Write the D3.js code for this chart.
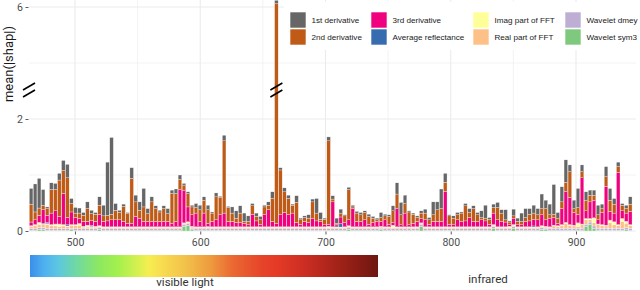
<!DOCTYPE html>
<html><head><meta charset="utf-8">
<script src="https://cdn.jsdelivr.net/npm/d3@7"></script>
<style>body{margin:0;background:#fff}svg{display:block}</style>
</head><body><svg id="c" width="640" height="290"></svg>
<script>
// ---------------- data ----------------
const wavelengths = [465.0,468.2,471.4,474.6,477.8,481.1,484.3,487.5,490.7,493.9,
497.1,500.3,503.5,506.7,509.9,513.2,516.4,519.6,522.8,526.0,
529.2,532.4,535.6,538.8,542.0,545.3,548.5,551.7,554.9,558.1,
561.3,564.5,567.7,570.9,574.1,577.4,580.6,583.8,587.0,590.2,
593.4,596.6,599.8,603.0,606.2,609.5,612.7,615.9,619.1,622.3,
625.5,628.7,631.9,635.1,638.3,641.6,644.8,648.0,651.2,654.4,
657.6,660.8,664.0,667.2,670.4,673.7,676.9,680.1,683.3,686.5,
689.7,692.9,696.1,699.3,702.5,705.8,709.0,712.2,715.4,718.6,
721.8,725.0,728.2,731.4,734.6,737.9,741.1,744.3,747.5,750.7,
753.9,757.1,760.3,763.5,766.7,770.0,773.2,776.4,779.6,782.8,
786.0,789.2,792.4,795.6,798.8,802.1,805.3,808.5,811.7,814.9,
818.1,821.3,824.5,827.7,830.9,834.2,837.4,840.6,843.8,847.0,
850.2,853.4,856.6,859.8,863.0,866.3,869.5,872.7,875.9,879.1,
882.3,885.5,888.7,891.9,895.1,898.4,901.6,904.8,908.0,911.2,
914.4,917.6,920.8,924.0,927.2,930.5,933.7,936.9,940.1,943.3];

const firstDerivative = [.28,.50,.53,.28,.03,.12,.11,.12,.18,.24,
.09,.10,.09,.05,.12,.06,.03,.15,.19,.95,
1.37,.12,.04,.04,.02,.19,.12,.15,.33,.09,
.09,.05,.03,.05,.09,.06,.08,.08,.03,.03,
.03,.07,.08,.06,.08,.02,.07,.02,.10,.02,
.11,.13,.13,.15,.10,.04,.06,.06,.03,.06,
.12,.06,.04,.07,.06,.02,.12,.03,.03,.06,
.05,.26,.12,.02,.07,.06,.09,.07,.02,.04,
.03,.03,.04,.03,.04,.03,.03,.09,.03,.03,
.09,.20,.22,.15,.02,.02,.03,.04,.07,.04,
.23,.14,.35,.16,.02,.04,.04,.02,.04,.07,
.05,.04,.12,.23,.03,.06,.09,.06,.18,.02,
.12,.06,.15,.16,.10,.14,.11,.26,.15,.19,
.53,.10,.27,.40,.12,.15,.34,.12,.15,.09,
.09,.17,.08,.18,.21,.10,.08,.03,.06,.13];

const secondDerivative = [.32,.14,.13,.08,.12,.42,.38,.65,.41,.71,
.15,.08,.10,.11,.23,.12,.13,.17,.10,.10,
.10,.17,.13,.27,.17,.80,.26,.15,.26,.14,
.35,.23,.17,.23,.14,.53,.50,.18,.09,.24,
.14,.10,.21,.23,.24,.15,.41,.31,1.29,.25,
.15,.08,.17,.03,.06,.15,.08,.08,.14,.08,
.41,5.92,.80,.37,.29,.14,.36,.08,.07,.08,
.29,.14,.04,.10,1.49,.05,.03,.07,.12,.54,
.03,.15,.12,.13,.14,.08,.03,.07,.07,.14,
.21,.26,.18,.17,.23,.16,.07,.10,.12,.08,
.12,.21,.23,.16,.15,.12,.09,.15,.27,.09,
.23,.12,.04,.05,.09,.10,.22,.15,.04,.05,
.04,.06,.06,.07,.12,.11,.09,.11,.20,.06,
.06,.09,.12,.16,.46,.07,.12,.11,.19,.12,
.09,.09,.07,.17,.20,.16,.10,.10,.08,.13];

const thirdDerivative = [.065,.085,.125,.24,.13,.205,.235,.135,.555,.13,
.225,.125,.085,.085,.065,.09,.085,.195,.095,.105,
.125,.125,.125,.095,.065,.065,.185,.145,.095,.095,
.095,.095,.095,.095,.095,.065,.095,.665,.585,.265,
.205,.245,.095,.245,.055,.095,.125,.215,.245,.095,
.095,.075,.075,.065,.035,.225,.105,.045,.215,.305,
.095,.065,.215,.255,.215,.245,.075,.045,.095,.075,
.155,.105,.095,.035,.035,.445,.02,.12,.075,.105,
.325,.095,.095,.125,.045,.075,.095,.085,.125,.045,
.045,.325,.035,.245,.035,.065,.095,.075,.125,.045,
.095,.095,.095,.635,.045,.035,.125,.095,.105,.165,
.095,.095,.125,.105,.045,.205,.125,.095,.085,.025,
.115,.035,.035,.095,.105,.12,.125,.195,.115,.155,
.135,.045,.285,.555,.485,.225,.155,.825,.135,.295,
.315,.075,.215,.695,.155,.155,.935,.135,.145,.235];

const averageReflectance = [.005,.005,.005,.02,.02,.005,.005,.005,.005,.02,
.005,.005,.005,.005,.005,.02,.005,.005,.005,.005,
.005,.005,.005,.005,.005,.005,.005,.005,.005,.005,
.005,.005,.005,.005,.005,.005,.005,.005,.005,.005,
.005,.005,.005,.005,.015,.005,.005,.005,.005,.005,
.005,.005,.005,.005,.005,.005,.005,.005,.005,.005,
.005,.005,.005,.005,.005,.005,.005,.005,.005,.005,
.005,.005,.005,.005,.005,.005,.02,.06,.005,.005,
.005,.005,.005,.005,.005,.005,.005,.005,.005,.005,
.005,.005,.005,.005,.005,.005,.005,.005,.005,.005,
.005,.005,.005,.005,.005,.005,.005,.005,.005,.005,
.005,.005,.005,.005,.005,.005,.005,.005,.005,.005,
.005,.005,.005,.005,.005,.02,.005,.005,.005,.005,
.005,.005,.005,.005,.005,.005,.005,.005,.005,.005,
.005,.005,.005,.005,.005,.005,.005,.005,.005,.005];

const imagFFT = [.01,.01,.03,.01,.01,.01,.03,.04,.02,.01,
.01,.01,.03,.01,.03,.01,.01,.01,.01,.01,
.01,.01,.01,.01,.01,.01,.01,.01,.01,.01,
.01,.01,.01,.01,.01,.01,.01,.01,.01,.01,
.01,.01,.01,.01,.01,.01,.01,.01,.01,.01,
.01,.01,.01,.01,.01,.01,.01,.01,.01,.01,
.01,.01,.01,.01,.01,.01,.01,.01,.01,.01,
.01,.01,.01,.01,.02,.01,.01,.01,.01,.01,
.01,.01,.01,.01,.01,.01,.01,.01,.01,.01,
.04,.01,.01,.01,.01,.01,.01,.01,.01,.01,
.01,.01,.01,.01,.01,.01,.01,.01,.01,.01,
.01,.01,.01,.01,.01,.01,.01,.01,.01,.02,
.01,.01,.01,.01,.01,.01,.01,.01,.01,.01,
.01,.01,.01,.01,.01,.01,.06,.01,.02,.02,
.08,.01,.01,.01,.04,.05,.01,.05,.03,.01];

const realFFT = [.04,.06,.06,.05,.08,.06,.05,.04,.05,.04,
.05,.06,.06,.03,.03,.03,.03,.02,.02,.02,
.02,.02,.02,.02,.02,.02,.02,.02,.02,.02,
.02,.02,.02,.02,.02,.02,.02,.02,.02,.02,
.02,.02,.02,.02,.02,.02,.02,.02,.02,.02,
.02,.02,.02,.02,.02,.02,.02,.02,.02,.02,
.02,.02,.02,.02,.02,.02,.02,.02,.02,.02,
.02,.02,.02,.02,.02,.02,.02,.02,.02,.02,
.02,.02,.02,.02,.02,.02,.02,.02,.02,.02,
.02,.02,.02,.02,.02,.02,.02,.02,.02,.02,
.02,.02,.02,.02,.02,.02,.02,.02,.02,.02,
.02,.02,.02,.02,.02,.02,.02,.02,.02,.02,
.02,.02,.02,.02,.02,.02,.02,.02,.02,.02,
.04,.03,.05,.09,.05,.04,.03,.06,.08,.04,
.06,.06,.05,.04,.10,.06,.05,.12,.08,.05];

const waveletDmey = [.03,.03,.03,.03,.03,.03,.03,.03,.03,.03,
.03,.03,.03,.03,.03,.03,.03,.03,.03,.03,
.03,.03,.03,.03,.03,.03,.03,.03,.03,.03,
.03,.03,.03,.03,.03,.03,.03,.03,.03,.03,
.03,.03,.03,.03,.03,.03,.03,.03,.03,.03,
.03,.03,.03,.03,.03,.03,.03,.03,.03,.03,
.03,.03,.03,.03,.03,.03,.03,.03,.03,.03,
.03,.03,.03,.03,.03,.03,.03,.03,.03,.03,
.03,.03,.03,.03,.03,.03,.03,.03,.03,.03,
.03,.03,.03,.03,.03,.03,.03,.03,.03,.03,
.03,.03,.03,.03,.03,.03,.03,.03,.03,.03,
.03,.03,.03,.03,.03,.03,.03,.03,.03,.03,
.03,.03,.03,.03,.03,.03,.03,.03,.03,.03,
.04,.04,.04,.04,.04,.04,.04,.04,.04,.04,
.04,.04,.04,.04,.04,.04,.04,.04,.04,.04];

const waveletSym3 = [.01,.01,.03,.03,.01,.01,.01,.01,.01,.01,
.02,.01,.01,.01,.01,.01,.01,.03,.01,.01,
.01,.01,.01,.01,.01,.01,.01,.01,.01,.01,
.01,.01,.01,.01,.01,.01,.01,.01,.08,.10,
.02,.01,.01,.01,.01,.01,.01,.01,.01,.01,
.01,.01,.01,.01,.01,.01,.01,.01,.01,.01,
.01,.01,.01,.01,.01,.01,.01,.01,.01,.01,
.01,.01,.01,.01,.01,.01,.01,.01,.01,.03,
.01,.01,.01,.01,.01,.01,.01,.02,.01,.01,
.01,.01,.01,.01,.01,.01,.01,.08,.01,.01,
.01,.01,.01,.01,.01,.01,.01,.01,.01,.01,
.01,.01,.01,.01,.01,.05,.01,.01,.01,.01,
.05,.01,.01,.01,.01,.01,.01,.03,.02,.01,
.01,.01,.01,.01,.01,.01,.01,.01,.08,.12,
.05,.01,.01,.01,.01,.01,.01,.01,.02,.01];

const seriesNames = ["1st derivative","2nd derivative","3rd derivative","Average reflectance",
  "Imag part of FFT","Real part of FFT","Wavelet dmey","Wavelet sym3"];
const seriesValues = [firstDerivative, secondDerivative, thirdDerivative, averageReflectance,
  imagFFT, realFFT, waveletDmey, waveletSym3];
const seriesColors = ["#666666","#BF5B17","#F0027F","#386CB0","#FFFF99","#FDC086","#BEAED4","#7FC97F"];
const yTickValues = [0, 2, 6];
const xTickValues = [500, 600, 700, 800, 900];
const spectrumLabels = ["visible light", "infrared"];
const yTitle = "mean(|shap|)";

// ---------------- chart ----------------
const svg = d3.select("#c");
const P = {l: 29, r: 636, t: 0, b: 231};
const x = d3.scaleLinear().domain([463.3, 947.9]).range([P.l, P.r]);
// broken axis: 2.5 .. 4.5 collapsed
const y = d3.scaleLinear().domain([0, 2.5, 4.5, 6.125]).range([P.b, 91, 91, P.t]);

const rows = wavelengths.map((w, i) => {
  const r = {wl: w};
  seriesNames.forEach((n, k) => r[n] = seriesValues[k][i]);
  return r;
});
const color = d3.scaleOrdinal().domain(seriesNames).range(seriesColors);

// gridlines
const g = svg.append("g");
const gridCol = "#ebebeb";
[1, 5].forEach(v => g.append("line").attr("x1", P.l).attr("x2", P.r).attr("y1", y(v)).attr("y2", y(v))
  .attr("stroke", gridCol).attr("stroke-width", 0.6));
[550, 650, 750, 850].forEach(v => g.append("line").attr("x1", x(v)).attr("x2", x(v)).attr("y1", P.t).attr("y2", P.b)
  .attr("stroke", gridCol).attr("stroke-width", 0.6));
yTickValues.forEach(v => g.append("line").attr("x1", P.l).attr("x2", P.r).attr("y1", y(v)).attr("y2", y(v))
  .attr("stroke", gridCol).attr("stroke-width", 1.1));
xTickValues.forEach(v => g.append("line").attr("x1", x(v)).attr("x2", x(v)).attr("y1", P.t).attr("y2", P.b)
  .attr("stroke", gridCol).attr("stroke-width", 1.1));

// stacked bars (last series at bottom, as in ggplot)
const stackKeys = seriesNames.slice().reverse();
const stacked = d3.stack().keys(stackKeys)(rows);
const step = x(wavelengths[1]) - x(wavelengths[0]);
const bw = step * 0.9;
svg.append("defs").append("clipPath").attr("id", "clip").append("rect")
  .attr("x", P.l).attr("y", P.t).attr("width", P.r - P.l).attr("height", P.b - P.t + 1);
const bars = svg.append("g").attr("clip-path", "url(#clip)");
stacked.forEach(layer => {
  bars.append("g").attr("fill", color(layer.key))
    .selectAll("rect").data(layer).join("rect")
    .attr("x", d => x(d.data.wl) - bw / 2)
    .attr("width", bw)
    .attr("y", d => y(d[1]))
    .attr("height", d => Math.max(0, y(d[0]) - y(d[1])))
    .attr("stroke", "#ffffff").attr("stroke-width", 0.3);
});

// axes
const yAxis = svg.append("g").attr("transform", `translate(${P.l - 0.5},0)`)
  .call(d3.axisLeft(y).tickValues(yTickValues).tickSize(3).tickPadding(2.5).tickFormat(d3.format("d")));
const xAxis = svg.append("g").attr("transform", `translate(0,${P.b + 0.5})`)
  .call(d3.axisBottom(x).tickValues(xTickValues).tickSize(3).tickPadding(4).tickFormat(d3.format("d")));
[yAxis, xAxis].forEach(a => {
  a.select(".domain").remove();
  a.selectAll(".tick line").attr("stroke", "#333333").attr("stroke-width", 0.8);
  a.selectAll(".tick text").attr("fill", "#4d4d4d").style("font-family", "Roboto, sans-serif").style("font-size", "10.5px");
});

// y title
svg.append("text").attr("transform", "translate(13,64) rotate(-90)")
  .attr("text-anchor", "middle").style("font-family", "Roboto, sans-serif").style("font-size", "13px")
  .attr("fill", "#1a1a1a").text(yTitle);

// legend
svg.append("rect").attr("x", 284).attr("y", 2).attr("width", P.r - 284).attr("height", 48).attr("fill", "#fff");
const keyX = [290, 371, 473, 565], keyY = [12, 29];
seriesNames.forEach((n, i) => {
  const c = Math.floor(i / 2), r = i % 2;
  svg.append("rect").attr("x", keyX[c]).attr("y", keyY[r]).attr("width", 16).attr("height", 16)
    .attr("fill", color(n)).attr("stroke", "#ffffff").attr("stroke-width", 0.6);
  svg.append("text").attr("x", keyX[c] + 21.5).attr("y", keyY[r] + 8).attr("dy", "0.35em")
    .style("font-family", "'Liberation Sans', Arial, sans-serif").style("font-size", "8.1px")
    .attr("fill", "#1a1a1a").text(n);
});

// break marks
function breakMark(cx, cy) {
  [-3.5, 3.5].forEach(dy => svg.append("line")
    .attr("x1", cx - 6).attr("y1", cy + dy + 3.5).attr("x2", cx + 6).attr("y2", cy + dy - 3.5)
    .attr("stroke", "#000").attr("stroke-width", 1.6));
}
const cyBreak = y(2.5) - 1;
breakMark(P.l, cyBreak);
const tallIdx = d3.maxIndex(secondDerivative);
breakMark(x(wavelengths[tallIdx]), cyBreak);

// spectrum color bar
const grad = svg.select("defs").append("linearGradient").attr("id", "spec").attr("x1", "0").attr("x2", "1");
[[0, "#3a8ee8"], [0.04, "#4fb0f0"], [0.08, "#5cc6e2"], [0.13, "#6fd8a6"], [0.2, "#8ee860"],
 [0.25, "#a2f04e"], [0.3, "#cdf050"], [0.34, "#f5ee50"], [0.37, "#f8e050"], [0.45, "#f2c04a"],
 [0.52, "#ee9a3e"], [0.58, "#ea6a32"], [0.67, "#e6422a"], [0.71, "#e43a26"], [0.8, "#c82c22"],
 [0.89, "#a02218"], [1, "#6e1610"]].forEach(s => grad.append("stop").attr("offset", s[0]).attr("stop-color", s[1]));
svg.append("rect").attr("x", 30).attr("y", 255).attr("width", 348).attr("height", 22).attr("fill", "url(#spec)");
svg.append("text").attr("x", 185).attr("y", 286).attr("text-anchor", "middle")
  .style("font-family", "Roboto, sans-serif").style("font-size", "11.5px").attr("fill", "#333")
  .text(spectrumLabels[0]);
svg.append("text").attr("x", 488).attr("y", 282.5).attr("text-anchor", "middle")
  .style("font-family", "Roboto, sans-serif").style("font-size", "11.5px").attr("fill", "#333")
  .text(spectrumLabels[1]);
</script>
</body></html>
